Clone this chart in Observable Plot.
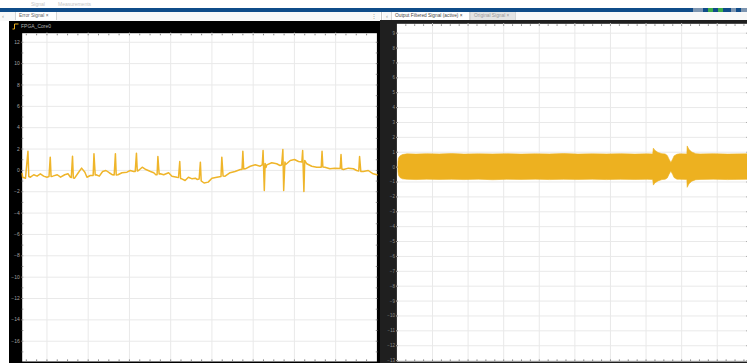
<!DOCTYPE html>
<html>
<head>
<meta charset="utf-8">
<title>FPGA_Core0 scope</title>
<script src="https://cdn.jsdelivr.net/npm/d3@7"></script>
<script src="https://cdn.jsdelivr.net/npm/@observablehq/plot@0.6"></script>
<style>
  html, body { margin: 0; padding: 0; background: #fff; }
  #scope { position: relative; width: 747px; height: 363px; overflow: hidden; background: #fff;
           font-family: "Liberation Sans", Arial, sans-serif; }
  #scope > * { position: absolute; }
  .toolbar-label { top: 1px; font-size: 5px; color: #c6c6c6; white-space: nowrap; }
  .ribbon { left: 0; top: 8px; width: 747px; height: 4px; background: #0f4c89; }
  .strip { top: 12px; height: 9px; background: #f8f8f8; }
  .tab { top: 12px; height: 8px; font-size: 4.8px; line-height: 8px; white-space: nowrap; padding: 0 3px;
         box-sizing: border-box; border-left: 1px solid #d6d6d6; border-right: 1px solid #d6d6d6; }
  .glyph { font-size: 6px; line-height: 8px; top: 12px; color: #9a9a9a; }
  .header-text { left: 21px; top: 21px; height: 11px; line-height: 11px; font-size: 5px; color: #b4b4b4; }
  .icon { width: 5px; height: 4px; top: 8px; }
</style>
</head>
<body>
<div id="scope">
  <div class="toolbar-label" style="left:31px">Signal</div>
  <div class="toolbar-label" style="left:58px">Measurements</div>
  <div class="ribbon"></div>
  <div class="icon" style="left:693px;width:10px;background:#7d95b0"></div>
  <div class="icon" style="left:708px;background:#3fae49"></div>
  <div class="icon" style="left:718px;background:#3fae49"></div>
  <div class="icon" style="left:731px;background:#7d95b0"></div>
  <div class="icon" style="left:741px;width:6px;background:#7d95b0"></div>
  <div class="strip" style="left:0;width:380px"></div>
  <div class="strip" style="left:383px;width:364px;height:8px"></div>
  <div style="left:381px;top:12px;width:1px;height:9px;background:#c8c8c8"></div>
  <div class="glyph" style="left:2px">‹</div>
  <div class="glyph" style="left:371px">⋮</div>
  <div class="glyph" style="left:386px">‹</div>
</div>
<script>
// Error signal trace (FPGA_Core0): time and amplitude
const errT = [
  -0.60, -0.59, -0.52, -0.46, -0.44, -0.40, -0.32, -0.24, -0.16, -0.08,
   0.00,  0.05,  0.08,  0.10,  0.14,  0.25,  0.33,  0.43,  0.51,  0.57,
   0.59,  0.62,  0.64,  0.67,  0.76,  0.84,  0.92,  0.97,  1.05,  1.12,
   1.14,  1.17,  1.19,  1.27,  1.35,  1.43,  1.51,  1.59,  1.63,  1.66,
   1.68,  1.72,  1.82,  1.94,  2.02,  2.10,  2.14,  2.17,  2.19,  2.22,
   2.31,  2.40,  2.51,  2.59,  2.64,  2.67,  2.69,  2.72,  2.75,  2.83,
   2.95,  3.03,  3.15,  3.19,  3.22,  3.24,  3.27,  3.35,  3.43,  3.52,
   3.60,  3.64,  3.69,  3.72,  3.74,  3.81,  3.91,  4.00,  4.12,  4.22,
   4.24,  4.27,  4.32,  4.44,  4.56,  4.69,  4.73,  4.75,  4.77,  4.81,
   4.93,  5.05,  5.17,  5.22,  5.24,  5.27,  5.29,  5.31,  5.33,  5.45,
   5.57,  5.65,  5.69,  5.72,  5.74,  5.77,  5.79,  5.90,  6.00,  6.10,
   6.18,  6.20,  6.23,  6.25,  6.30,  6.42,  6.54,  6.65,  6.67,  6.69,
   6.74,  6.86,  6.98,  7.11,  7.13,  7.15,  7.19,  7.31,  7.43,  7.51,
   7.56,  7.58,  7.61,  7.67,  7.79,  7.91,  8.00
];
const errV = [
  -0.29, -0.64, -0.73,  1.80, -0.57, -0.64, -0.41, -0.54, -0.32, -0.54,
  -0.64, -0.57,  1.24, -0.57, -0.54, -0.41, -0.64, -0.41, -0.32, -0.64,
  -0.66,  1.33, -0.71, -0.73, -0.22,  0.21, -0.17, -0.64, -0.48, -0.48,
   1.55, -0.43, -0.41, -0.54, -0.10, -0.01, -0.22, -0.41, -0.43,  1.55,
  -0.43, -0.41, -0.22, -0.17, -0.01, -0.10, -0.10,  1.61, -0.06, -0.01,
   0.30,  0.08, -0.10, -0.22, -0.41, -0.41,  1.30, -0.34, -0.32, -0.41,
  -0.22, -0.54, -0.64, -0.66,  0.83, -0.76, -0.79, -0.95, -0.64, -0.79,
  -0.73, -0.85, -0.81,  0.77, -0.99, -1.18, -1.10, -0.73, -0.64, -0.57,
   1.24, -0.52, -0.54, -0.22, -0.10,  0.08,  0.08,  1.80,  0.13,  0.15,
   0.39,  0.52,  0.39,  0.51,  1.86, -1.88,  0.65,  0.27,  0.52,  0.71,
   0.62,  0.46,  0.51,  1.96, -1.88,  0.79,  0.55,  0.93,  1.02,  0.83,
   0.79,  1.86, -1.98,  0.93,  0.62,  0.39,  0.30,  0.30,  1.80,  0.32,
   0.30,  0.15,  0.21,  0.18,  1.49,  0.13,  0.08,  0.21,  0.15, -0.01,
  -0.06,  1.30, -0.10, -0.10, -0.01, -0.32, -0.41
];

// Output filtered signal: envelope of the dense oscillation (upper / lower)
const outT  = [0.045, 0.06, 0.10, 0.17, 0.30, 0.55, 0.85, 1.20, 1.55, 1.90,
               2.30, 2.70, 3.10, 3.50, 3.90, 4.30, 4.70, 5.10, 5.50, 5.90,
               6.30, 6.70, 7.05, 7.20, 7.22, 7.26, 7.35, 7.46, 7.55, 7.61,
               7.66, 7.71, 7.76, 7.80, 7.88, 7.96, 8.16, 8.17, 8.22, 8.30,
               8.41, 8.53, 8.90, 9.30, 9.85];
const outHi = [0.33, 0.58, 0.72, 0.81, 0.86, 0.84, 0.87, 0.85, 0.88, 0.84,
               0.86, 0.85, 0.87, 0.84, 0.86, 0.85, 0.88, 0.84, 0.86, 0.85,
               0.87, 0.84, 0.86, 0.85, 1.24, 1.10, 0.95, 0.87, 0.85, 0.75,
               0.50, 0.28, 0.50, 0.72, 0.83, 0.86, 0.85, 1.39, 1.15, 0.98,
               0.87, 0.85, 0.87, 0.84, 0.86];
const outLo = [-0.33, -0.58, -0.73, -0.82, -0.85, -0.87, -0.84, -0.86, -0.85, -0.87,
               -0.84, -0.88, -0.85, -0.86, -0.84, -0.87, -0.85, -0.86, -0.84, -0.87,
               -0.85, -0.86, -0.85, -0.86, -1.24, -1.10, -0.96, -0.87, -0.85, -0.76,
               -0.52, -0.30, -0.52, -0.73, -0.84, -0.85, -0.86, -1.39, -1.15, -0.98,
               -0.88, -0.86, -0.84, -0.87, -0.85];

// Axis ticks
const errTicksY = [12, 10, 8, 6, 4, 2, 0, -2, -4, -6, -8, -10, -12, -14, -16];
const errTicksX = [0, 1, 2, 3, 4, 5, 6, 7];
const outTicksY = [9, 8, 7, 6, 5, 4, 3, 2, 1, 0, -1, -2, -3, -4, -5, -6, -7, -8, -9, -10, -11, -12, -13];
const outTicksX = [1, 2, 3, 4, 5, 6, 7, 8, 9];

// Labels
const channelName = "FPGA_Core0";
const leftTabs = ["Error Signal"];
const rightTabs = ["Output Filtered Signal (active)", "Original Signal"];

const scopeYellow = "#edb120";
const gridStroke = "#e9e9e9";
const fontFamily = "Liberation Sans, Arial, sans-serif";

const errData = errT.map((t, i) => ({t, v: errV[i]}));
const outData = outT.map((t, i) => ({t, hi: outHi[i], lo: outLo[i]}));

// Inward box ticks on every side of an axes
function boxTicks(xMinor, yMinor, stroke) {
  const blank = () => "";
  return [
    Plot.axisX(xMinor, {anchor: "top", tickSize: -1.6, tickFormat: blank, stroke, label: null}),
    Plot.axisX(xMinor, {anchor: "bottom", tickSize: -1.6, tickFormat: blank, stroke, label: null}),
    Plot.axisY(yMinor, {anchor: "left", tickSize: -1.6, tickFormat: blank, stroke, label: null}),
    Plot.axisY(yMinor, {anchor: "right", tickSize: -1.6, tickFormat: blank, stroke, label: null})
  ];
}

const errPlot = Plot.plot({
  width: 371, height: 342,
  marginTop: 11.7, marginRight: 3.6, marginBottom: 2, marginLeft: 12.7,
  style: {background: "#000", color: "#a3a3a3", fontFamily},
  x: {domain: [-0.6, 8], axis: null, label: null},
  y: {domain: [-17.9, 12.85], axis: null, label: null},
  marks: [
    Plot.frame({fill: "#fff"}),
    Plot.gridX(errTicksX, {stroke: gridStroke, strokeOpacity: 1}),
    Plot.gridY(errTicksY, {stroke: gridStroke, strokeOpacity: 1}),
    ...boxTicks(d3.range(-0.5, 8, 0.25), d3.range(-17, 13, 1), "#8a8a8a"),
    Plot.axisY(errTicksY, {anchor: "left", tickSize: 0, tickPadding: 2.4, fontSize: 5, label: null}),
    Plot.line(errData, {x: "t", y: "v", stroke: "#efb52a", strokeWidth: 1.5, strokeLinejoin: "round"})
  ]
});

const outPlot = Plot.plot({
  width: 367, height: 343,
  marginTop: 3.3, marginRight: 0, marginBottom: 2, marginLeft: 16.4,
  style: {background: "#1f1f1f", color: "#8e8e8e", fontFamily},
  x: {domain: [0, 9.85], axis: null, label: null},
  y: {domain: [-13.06, 9.63], axis: null, label: null},
  marks: [
    Plot.frame({fill: "#fff"}),
    Plot.gridX(outTicksX, {stroke: gridStroke, strokeOpacity: 1}),
    Plot.gridY(outTicksY, {stroke: gridStroke, strokeOpacity: 1}),
    ...boxTicks(d3.range(0.25, 9.85, 0.25), outTicksY, "#8a8a8a"),
    Plot.axisY(outTicksY, {anchor: "left", tickSize: 0, tickPadding: 2, fontSize: 4.5, label: null}),
    Plot.areaY(outData, {x: "t", y1: "lo", y2: "hi", fill: scopeYellow, stroke: scopeYellow, strokeWidth: 0.6})
  ]
});

const scope = document.getElementById("scope");

function place(node, left, top) {
  node.style.position = "absolute";
  node.style.left = left + "px";
  node.style.top = top + "px";
  node.style.display = "block";
  scope.appendChild(node);
  return node;
}

place(errPlot, 9, 21);
place(outPlot, 380, 20);

// Channel header over the error display
const header = document.createElement("div");
header.className = "header-text";
header.textContent = channelName;
scope.appendChild(header);

const icon = document.createElementNS("http://www.w3.org/2000/svg", "svg");
icon.setAttribute("width", "7");
icon.setAttribute("height", "7");
icon.innerHTML = '<path d="M0.5,6 H2.5 V1 H6.5" fill="none" stroke="' + scopeYellow + '" stroke-width="1"/>';
place(icon, 12, 23);

// Tabs
function addTabs(labels, left, widths, styles) {
  let x = left;
  labels.forEach((label, i) => {
    const tab = document.createElement("div");
    tab.className = "tab";
    tab.style.left = x + "px";
    tab.style.width = widths[i] + "px";
    tab.style.background = styles[i].bg;
    tab.style.color = styles[i].fg;
    tab.textContent = label + " \u00d7";
    scope.appendChild(tab);
    x += widths[i];
  });
}
addTabs(leftTabs, 15, [42], [{bg: "#fff", fg: "#666"}]);
addTabs(rightTabs, 391, [79, 46], [{bg: "#fff", fg: "#444"}, {bg: "#e3e3e3", fg: "#999"}]);
</script>
</body>
</html>
